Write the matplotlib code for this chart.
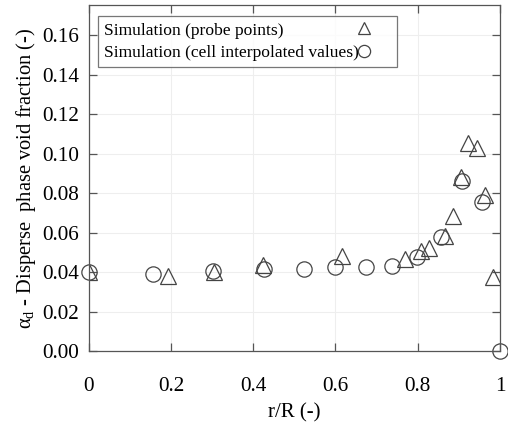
import matplotlib
matplotlib.use("Agg")
import matplotlib.pyplot as plt
from matplotlib.ticker import FixedLocator, FixedFormatter

# Radial profile of the dispersed-phase void fraction
probe_r = [0.0, 0.194, 0.305, 0.424, 0.617, 0.769, 0.807, 0.828, 0.866,
           0.885, 0.905, 0.923, 0.943, 0.964, 0.982]
probe_alpha = [0.040, 0.0381, 0.040, 0.0436, 0.0483, 0.0466, 0.0506, 0.0525,
               0.0584, 0.0687, 0.0884, 0.1053, 0.1031, 0.0791, 0.0378]

cell_r = [0.0, 0.156, 0.302, 0.426, 0.524, 0.600, 0.673, 0.738, 0.799,
          0.857, 0.907, 0.957, 1.0]
cell_alpha = [0.0399, 0.0392, 0.0408, 0.0418, 0.0418, 0.0425, 0.0425,
              0.0431, 0.0479, 0.0577, 0.0862, 0.0754, 0.0]

x_ticks = [0, 0.2, 0.4, 0.6, 0.8, 1.0]
x_tick_labels = ["0", "0.2", "0.4", "0.6", "0.8", "1"]
y_ticks = [0.00, 0.02, 0.04, 0.06, 0.08, 0.10, 0.12, 0.14, 0.16]
y_tick_labels = ["%.2f" % v for v in y_ticks]

plt.rcParams["font.family"] = ["Liberation Serif", "DejaVu Serif"]
plt.rcParams["mathtext.fontset"] = "custom"
plt.rcParams["mathtext.rm"] = "Liberation Serif"
plt.rcParams["mathtext.it"] = "Liberation Serif"

fig = plt.figure(figsize=(5.08, 4.23), dpi=100)
ax = fig.add_axes([0.1746, 0.1695, 0.8097, 0.8185])

edge = "#444444"
ax.plot(probe_r, probe_alpha, linestyle="none", marker="^", markersize=11,
        markerfacecolor="none", markeredgecolor=edge, markeredgewidth=0.9,
        label="Simulation (probe points)")
ax.plot(cell_r, cell_alpha, linestyle="none", marker="o", markersize=11,
        markerfacecolor="none", markeredgecolor=edge, markeredgewidth=0.9,
        label="Simulation (cell interpolated values)", clip_on=False)

ax.set_xlim(0, 1)
ax.set_ylim(0, 0.1753)
ax.xaxis.set_major_locator(FixedLocator(x_ticks))
ax.xaxis.set_major_formatter(FixedFormatter(x_tick_labels))
ax.yaxis.set_major_locator(FixedLocator(y_ticks))
ax.yaxis.set_major_formatter(FixedFormatter(y_tick_labels))

ax.grid(True, color="#eeeeee", linewidth=0.8)
ax.set_axisbelow(True)
for s in ax.spines.values():
    s.set_color("#555555")
    s.set_linewidth(0.9)

ax.tick_params(axis="both", which="major", direction="in", length=6,
               width=0.9, color="#555555", top=True, right=True,
               labelsize=15.3, labelcolor="black")
ax.tick_params(axis="x", pad=18.5)
ax.tick_params(axis="y", pad=7)

ax.set_xlabel("r/R (-)", fontsize=15, labelpad=5)
ax.set_ylabel(r"$\mathrm{\alpha_d}$ - Disperse  phase void fraction (-)",
              fontsize=14.8, labelpad=3)

leg = ax.legend(loc="upper left", markerfirst=False, fontsize=12.6,
                frameon=True, fancybox=False, borderpad=0.35,
                handletextpad=-1.2, handlelength=3.0, labelspacing=0.35,
                bbox_to_anchor=(0.0226, 0.968), borderaxespad=0.0,
                markerscale=0.8)
leg.get_frame().set_edgecolor("#555555")
leg.get_frame().set_linewidth(0.9)

# Left-align the entry texts while keeping the markers in one column
fig.canvas.draw()
renderer = fig.canvas.get_renderer()
widths = [t.get_window_extent(renderer).width for t in leg.texts]
px_per_pt = fig.dpi / 72.0
for col in leg._legend_handle_box.get_children():
    col.align = "left"
    for row, w in zip(col.get_children(), widths):
        row.sep = row.sep + (max(widths) - w) / px_per_pt

fig.savefig("out.png", dpi=100)
